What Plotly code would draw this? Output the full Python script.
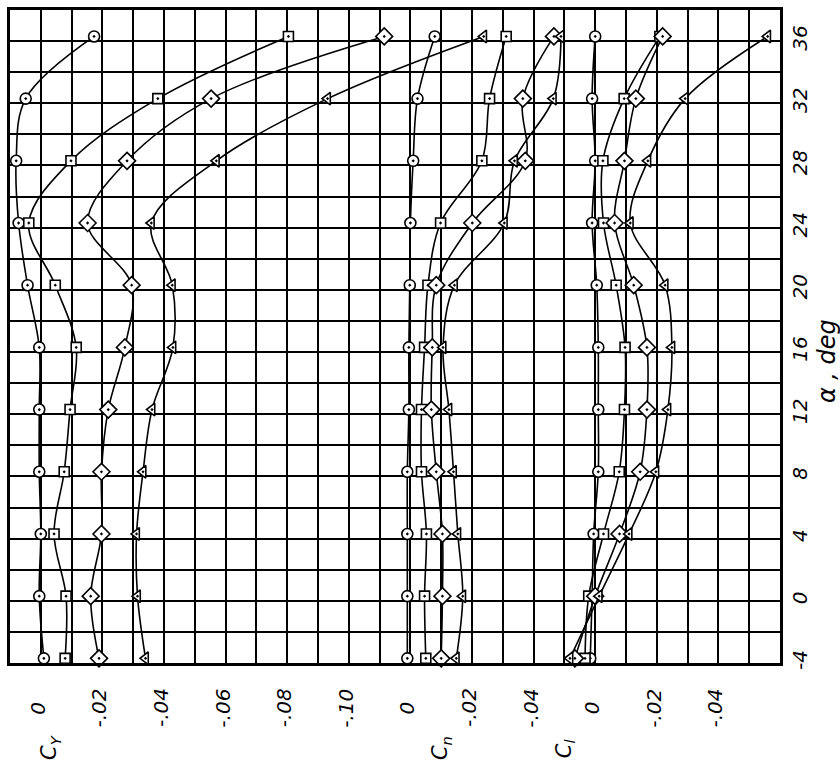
import plotly.graph_objects as go

# Angle of attack at each test point (deg)
alpha = [-3.7, 0.3, 4.3, 8.3, 12.3, 16.3, 20.3, 24.3, 28.3, 32.3, 36.3]

# Side-force coefficient
cy_circle = [-0.001, 0.0005, 0.0, 0.0005, 0.0005, 0.0005, 0.0043, 0.0072, 0.008, 0.0049, -0.0173]
cy_square = [-0.0079, -0.0082, -0.0043, -0.0076, -0.0095, -0.0115, -0.0047, 0.0039, -0.0098, -0.038, -0.0804]
cy_diamond = [-0.0189, -0.0162, -0.0197, -0.0197, -0.0219, -0.0273, -0.0295, -0.0152, -0.028, -0.0553, -0.1115]
cy_triangle = [-0.034, -0.0314, -0.0311, -0.0332, -0.0361, -0.0429, -0.0427, -0.0359, -0.057, -0.0931, -0.1438]

# Yawing-moment coefficient
cn_circle = [0.001, 0.001, 0.001, 0.001, 0.0005, 0.0005, 0.0002, 0.0, -0.0009, -0.0023, -0.0079]
cn_square = [-0.005, -0.0046, -0.0052, -0.0036, -0.0036, -0.0046, -0.0057, -0.0098, -0.0232, -0.0257, -0.0311]
cn_diamond = [-0.010, -0.0104, -0.0104, -0.0084, -0.0068, -0.0071, -0.0084, -0.0201, -0.0373, -0.0365, -0.0466]
cn_triangle = [-0.0149, -0.017, -0.0154, -0.014, -0.0125, -0.0106, -0.0143, -0.0305, -0.0338, -0.0464, -0.0489]

# Rolling-moment coefficient
cl_circle = [0.0016, 0.001, 0.0005, -0.001, -0.001, -0.001, -0.0005, 0.001, 0.0, 0.001, 0.0]
cl_square = [0.0033, 0.0021, -0.0027, -0.0078, -0.0095, -0.0097, -0.0068, -0.0027, -0.0025, -0.0094, -0.021]
cl_diamond = [0.0066, 0.0, -0.0079, -0.0146, -0.0168, -0.0168, -0.0125, -0.0063, -0.0095, -0.0132, -0.0219]
cl_triangle = [0.0082, -0.0013, -0.011, -0.0197, -0.0236, -0.0249, -0.0227, -0.0114, -0.0171, -0.0292, -0.056]

# Tick labels
alpha_ticks = [-4, 0, 4, 8, 12, 16, 20, 24, 28, 32, 36]
alpha_ticktext = ["-4", "0", "4", "8", "12", "16", "20", "24", "28", "32", "36"]
cy_ticks = [0, -0.02, -0.04, -0.06, -0.08, -0.10]
cy_ticktext = ["0", "-.02", "-.04", "-.06", "-.08", "-.10"]
cn_ticks = [0, -0.02, -0.04]
cn_ticktext = ["0", "-.02", "-.04"]
cl_ticks = [0, -0.02, -0.04]
cl_ticktext = ["0", "-.02", "-.04"]

symbols = {
    "circle": ("circle-dot", 11),
    "square": ("square-dot", 10),
    "diamond": ("diamond-dot", 13),
    "triangle": ("triangle-left-dot", 11),
}

LABEL_FONT = dict(family="DejaVu Sans", size=20, color="black", style="italic")

fig = go.Figure()


def add_series(values, kind, xaxis):
    sym, size = symbols[kind]
    fig.add_trace(go.Scatter(
        x=values, y=alpha, xaxis=xaxis, yaxis="y",
        mode="lines+markers",
        line=dict(color="black", width=1.6, shape="spline", smoothing=1.0),
        marker=dict(symbol=sym, size=size, color="white",
                    line=dict(color="black", width=1.6)),
        cliponaxis=False, showlegend=False, name=kind,
    ))


for vals, kind in [(cy_circle, "circle"), (cy_square, "square"),
                   (cy_diamond, "diamond"), (cy_triangle, "triangle")]:
    add_series(vals, kind, "x")
for vals, kind in [(cn_circle, "circle"), (cn_square, "square"),
                   (cn_diamond, "diamond"), (cn_triangle, "triangle")]:
    add_series(vals, kind, "x2")
for vals, kind in [(cl_circle, "circle"), (cl_square, "square"),
                   (cl_diamond, "diamond"), (cl_triangle, "triangle")]:
    add_series(vals, kind, "x3")

GRID_W = 1.7
common_overlay = dict(overlaying="x", anchor="y", showgrid=False, showticklabels=False,
                      ticks="", showline=False, zeroline=True, zerolinecolor="black",
                      zerolinewidth=2.2)

fig.update_layout(
    width=840, height=777,
    margin=dict(l=7, r=60, t=10, b=114),
    plot_bgcolor="white", paper_bgcolor="white",
    xaxis=dict(range=[0.01, -0.24], tickmode="linear", tick0=0, dtick=0.01,
               showgrid=True, gridcolor="black", gridwidth=GRID_W,
               showticklabels=False, ticks="",
               zeroline=True, zerolinecolor="black", zerolinewidth=2.2,
               showline=True, mirror=True, linecolor="black", linewidth=2.8),
    xaxis2=dict(range=[0.13, -0.12], **common_overlay),
    xaxis3=dict(range=[0.19, -0.06], **common_overlay),
    yaxis=dict(range=[-4, 38], tickmode="array", tickvals=alpha_ticks,
               ticktext=alpha_ticktext, side="right", tickangle=-90,
               tickfont=LABEL_FONT, ticks="", ticklabelstandoff=0,
               showgrid=True, gridcolor="black", gridwidth=GRID_W,
               minor=dict(tickmode="linear", tick0=0, dtick=2, showgrid=True,
                          gridcolor="black", gridwidth=GRID_W, ticks=""),
               zeroline=True, zerolinecolor="black", zerolinewidth=2.4,
               showline=True, mirror=True, linecolor="black", linewidth=2.8),
)

annotations = []
for ref, ticks, texts in [("x", cy_ticks, cy_ticktext), ("x2", cn_ticks, cn_ticktext),
                          ("x3", cl_ticks, cl_ticktext)]:
    for v, t in zip(ticks, texts):
        annotations.append(dict(x=v, y=-0.069, xref=ref, yref="paper", text=t,
                                textangle=-90, showarrow=False, font=LABEL_FONT,
                                xanchor="center", yanchor="middle", xshift=-3))

TITLE_FONT = dict(family="DejaVu Sans", size=21, color="black", style="italic")
AXIS_TITLE_FONT = dict(family="DejaVu Sans", size=24, color="black", style="italic")
title_common = dict(textangle=-90, showarrow=False, font=TITLE_FONT,
                    xanchor="center", yanchor="middle")
annotations += [
    dict(x=-0.003, y=-0.13, xref="x", yref="paper", text="C<sub>Y</sub>", **title_common),
    dict(x=-0.010, y=-0.13, xref="x2", yref="paper", text="C<sub>n</sub>", **title_common),
    dict(x=0.010, y=-0.13, xref="x3", yref="paper", text="C<sub>l</sub>", **title_common),
    dict(x=1.062, y=15.4, xref="paper", yref="y", text="α , deg",
         textangle=-90, showarrow=False, font=AXIS_TITLE_FONT,
         xanchor="center", yanchor="middle"),
]
fig.update_layout(annotations=annotations)

fig.write_html("out.html")
